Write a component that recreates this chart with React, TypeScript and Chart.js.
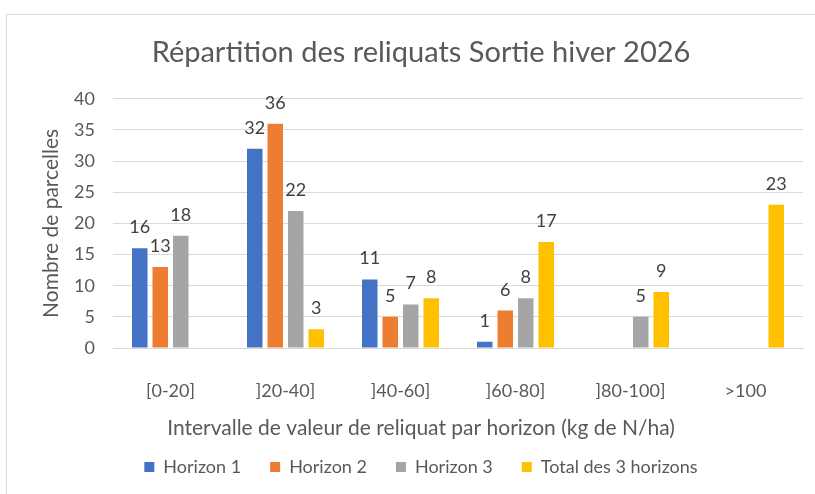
import React, { useEffect, useRef } from "react";
import { Chart, registerables } from "chart.js";

Chart.register(...registerables);

const categories = ["[0-20]", "]20-40]", "]40-60]", "]60-80]", "]80-100]", ">100"];
const horizon1 = [16, 32, 11, 1, null, null];
const horizon2 = [13, 36, 5, 6, null, null];
const horizon3 = [18, 22, 7, 8, 5, null];
const total3 = [null, 3, 8, 17, 9, 23];
const seriesNames = ["Horizon 1", "Horizon 2", "Horizon 3", "Total des 3 horizons"];
const seriesColors = ["#4472C4", "#ED7D31", "#A5A5A5", "#FFC000"];
const yTicks = [0, 5, 10, 15, 20, 25, 30, 35, 40];
const titleText = "Répartition des reliquats Sortie hiver 2026";
const xTitle = "Intervalle de valeur de reliquat par horizon (kg de N/ha)";
const yTitle = "Nombre de parcelles";

const FONT = "Lato, 'Open Sans', sans-serif";

const dataLabels = {
  id: "dataLabels",
  afterDatasetsDraw(chart: any) {
    const ctx = chart.ctx;
    ctx.save();
    ctx.font = `18px ${FONT}`;
    ctx.fillStyle = "#404040";
    ctx.textAlign = "center";
    ctx.textBaseline = "alphabetic";
    chart.data.datasets.forEach((ds: any, i: number) => {
      const meta = chart.getDatasetMeta(i);
      meta.data.forEach((bar: any, j: number) => {
        const v = ds.data[j];
        if (v === null || v === undefined) return;
        ctx.fillText(String(v), bar.x, bar.y - 15);
      });
    });
    ctx.restore();
  },
};

export default function App() {
  const ref = useRef<HTMLCanvasElement>(null);
  useEffect(() => {
    const series = [horizon1, horizon2, horizon3, total3];
    const chart = new Chart(ref.current!, {
      type: "bar",
      data: {
        labels: categories,
        datasets: series.map((d, i) => ({
          label: seriesNames[i],
          data: d,
          backgroundColor: seriesColors[i],
          borderWidth: 0,
          categoryPercentage: 0.713,
          barPercentage: 0.756,
        })),
      },
      plugins: [dataLabels],
      options: {
        animation: false,
        responsive: false,
        maintainAspectRatio: false,
        devicePixelRatio: 1,
        layout: { padding: 0 },
        plugins: {
          tooltip: { enabled: false },
          title: {
            display: true,
            text: titleText,
            color: "#595959",
            font: { family: FONT, size: 29, weight: "normal" },
            padding: { top: 20, bottom: 29 },
          },
          subtitle: {
            display: true,
            position: "bottom",
            weight: 500,
            text: xTitle,
            color: "#595959",
            font: { family: FONT, size: 21, weight: "normal" },
            padding: { top: 0, bottom: -11.6 },
          },
          legend: {
            position: "bottom",
            labels: {
              color: "#595959",
              font: { family: FONT, size: 18 },
              boxWidth: 10,
              boxHeight: 10,
              padding: 29,
            },
          },
        },
        scales: {
          x: {
            grid: { display: false, drawTicks: false },
            border: { display: true, color: "#d9d9d9", width: 1 },
            ticks: { color: "#595959", font: { family: FONT, size: 18 }, padding: 32 },
            afterFit: (s: any) => { s.height = 67.4; },
          },
          y: {
            min: 0,
            max: 40,
            afterBuildTicks: (s: any) => { s.ticks = yTicks.map((v) => ({ value: v })); },
            grid: { color: "#d9d9d9", lineWidth: 1, drawTicks: false },
            border: { display: false },
            ticks: { color: "#595959", font: { family: FONT, size: 18 }, padding: 18 },
            title: {
              display: true,
              text: yTitle,
              color: "#595959",
              font: { family: FONT, size: 21 },
              padding: { top: 32, bottom: 0 },
            },
            afterFit: (s: any) => { s.width = 106; },
          },
          yRight: {
            type: "linear",
            position: "right",
            display: true,
            grid: { display: false, drawTicks: false },
            border: { display: false },
            ticks: { display: false },
            afterFit: (s: any) => { s.width = 32; },
          },
        },
      },
    });
    return () => chart.destroy();
  }, []);
  return (
    <div style={{ position: "fixed", left: 0, top: 0, width: 815, height: 494, overflow: "hidden", background: "#fff" }}>
      <div style={{ position: "absolute", left: 6, top: 14, width: 828, height: 490, border: "1px solid #d9d9d9", background: "#fff" }}>
        <canvas ref={ref} width={828} height={471} style={{ display: "block" }} />
      </div>
    </div>
  );
}
